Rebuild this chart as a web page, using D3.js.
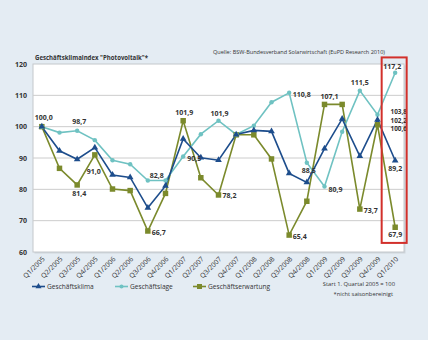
<!DOCTYPE html>
<html><head><meta charset="utf-8">
<script src="https://cdn.jsdelivr.net/npm/d3@7"></script>
<style>
html,body{margin:0;padding:0;background:#e4ecf3;}
svg{display:block;font-family:"Open Sans",sans-serif;}
</style></head>
<body>
<svg id="chart" width="428" height="340"></svg>
<script>
const quarters = ["Q1/2005","Q2/2005","Q3/2005","Q4/2005","Q1/2006","Q2/2006","Q3/2006","Q4/2006",
  "Q1/2007","Q2/2007","Q3/2007","Q4/2007","Q1/2008","Q2/2008","Q3/2008","Q4/2008",
  "Q1/2009","Q2/2009","Q3/2009","Q4/2009","Q1/2010"];
const klima = [100.0, 92.3, 89.6, 93.3, 84.6, 83.8, 74.1, 81.1, 96.1, 90.1, 89.3, 97.5, 98.8, 98.5, 85.1, 82.2, 93.0, 102.5, 90.6, 102.2, 89.2];
const lage = [100.0, 98.1, 98.7, 95.7, 89.3, 88.0, 82.8, 82.8, 90.5, 97.6, 101.9, 97.5, 100.3, 107.8, 110.8, 88.5, 80.9, 98.4, 111.5, 103.8, 117.2];
const erwartung = [100.0, 86.7, 81.4, 91.0, 80.1, 79.6, 66.7, 78.7, 101.9, 83.7, 78.2, 97.4, 97.4, 89.7, 65.4, 76.2, 107.1, 107.1, 73.7, 100.6, 67.9];
const yTicks = [60, 70, 80, 90, 100, 110, 120];
const seriesNames = ["Geschäftsklima", "Geschäftslage", "Geschäftserwartung"];
// labelled points: [series key, quarter index]
const labelled = [
  ["lage",0],["lage",2],["erw",3],["erw",2],["lage",6],["erw",6],["erw",8],["lage",8],
  ["lage",10],["erw",10],["lage",14],["erw",14],["lage",15],["erw",16],["lage",16],
  ["lage",18],["erw",18],["lage",20],["lage",19],["klima",19],["erw",19],["klima",20],["erw",20]
];
const titleText = 'Geschäftsklimaindex "Photovoltaik"*';
const sourceText = "Quelle: BSW-Bundesverband Solarwirtschaft (EuPD Research 2010)";
const note1 = "Start 1. Quartal 2005 = 100";
const note2 = "*nicht saisonbereinigt";

// ---- styling / layout ----
const series = {
  klima: {values: klima, color: "#1d4d8c", marker: "triangle", name: seriesNames[0]},
  lage: {values: lage, color: "#6fc2c2", marker: "circle", name: seriesNames[1]},
  erw: {values: erwartung, color: "#7b8a2c", marker: "square", name: seriesNames[2]}
};
const placement = { // dx, dy, anchor, font size
  "lage-0":[2,-9,"middle"], "lage-2":[2,-9,"middle"], "erw-3":[-1,17,"middle"], "erw-2":[2,9,"middle"],
  "lage-6":[2,-5,"start"], "erw-6":[4,1.5,"start"], "erw-8":[1,-8,"middle"], "lage-8":[4,2,"start"],
  "lage-10":[1,-7.5,"middle"], "erw-10":[4,1,"start"], "lage-14":[3.5,1.5,"start"], "erw-14":[3.5,1.5,"start"],
  "lage-15":[2,8,"middle"], "erw-16":[5,-8,"middle"], "lage-16":[4,2.5,"start"], "lage-18":[0,-8,"middle"],
  "erw-18":[4,1,"start"], "lage-20":[-3,-6,"middle"], "lage-19":[13,-3.6,"start",6.4], "klima-19":[13,0.4,"start",6.4],
  "erw-19":[13,4.0,"start",6.4], "klima-20":[0,7.5,"middle"], "erw-20":[0,7.5,"middle"]
};

const svg = d3.select("#chart");
const plot = {left: 33, right: 404, top: 64, bottom: 252};
const x = d3.scalePoint().domain(quarters).range([plot.left, plot.right]).padding(0.5);
const y = d3.scaleLinear().domain([60, 120]).range([plot.bottom, plot.top]);
const fmt = v => d3.format(".1f")(v).replace(".", ",");

// plot background + shadow
svg.append("rect").attr("x", plot.left + 1.5).attr("y", plot.top + 1.5)
  .attr("width", plot.right - plot.left).attr("height", plot.bottom - plot.top)
  .attr("fill", "#cfd6dc");
svg.append("rect").attr("x", plot.left).attr("y", plot.top)
  .attr("width", plot.right - plot.left).attr("height", plot.bottom - plot.top)
  .attr("fill", "#fff").attr("stroke", "#c4c8cc").attr("stroke-width", 1);

// grid
svg.append("g").selectAll("line").data(yTicks.filter(t => t > 60 && t < 120)).join("line")
  .attr("x1", plot.left).attr("x2", plot.right)
  .attr("y1", d => y(d)).attr("y2", d => y(d))
  .attr("stroke", "#cccccc").attr("stroke-width", 1);

// y axis
const yAxis = d3.axisLeft(y).tickValues(yTicks).tickSize(0).tickPadding(6);
const yg = svg.append("g").attr("transform", `translate(${plot.left},0)`).call(yAxis);
yg.select(".domain").remove();
yg.selectAll("text").attr("font-size", 7).attr("font-weight", "bold").attr("fill", "#333")
  .attr("font-family", "'Open Sans',sans-serif");

// x axis
const xAxis = d3.axisBottom(x).tickSize(0).tickPadding(0);
const xg = svg.append("g").attr("transform", `translate(0,${plot.bottom})`).call(xAxis);
xg.select(".domain").remove();
xg.selectAll("text").attr("font-size", 6.8).attr("fill", "#333")
  .attr("font-family", "'Open Sans',sans-serif")
  .attr("text-anchor", "end").attr("dy", 0).attr("y", 0)
  .attr("transform", "translate(3,7.5) rotate(-45)");

// lines
const line = d3.line().x((d, i) => x(quarters[i])).y(d => y(d));
const order = ["erw", "lage", "klima"];
function marker(g, type, color, size) {
  if (type === "triangle") {
    g.append("path").attr("d", d3.symbol(d3.symbolTriangle, size * 3.2)()).attr("fill", color);
  } else if (type === "square") {
    g.append("path").attr("d", d3.symbol(d3.symbolSquare, size * 5)()).attr("fill", color);
  } else {
    g.append("path").attr("d", d3.symbol(d3.symbolCircle, size * 2.6)()).attr("fill", color);
  }
}
order.forEach(k => {
  const s = series[k];
  svg.append("path").datum(s.values).attr("d", line)
    .attr("fill", "none").attr("stroke", s.color).attr("stroke-width", 1.6)
    .attr("stroke-linejoin", "miter");
});
order.forEach(k => {
  const s = series[k];
  s.values.forEach((v, i) => {
    const g = svg.append("g").attr("transform", `translate(${x(quarters[i])},${y(v)})`);
    marker(g, s.marker, s.color, 6);
  });
});

// data labels
const pl = d => placement[d[0] + "-" + d[1]];
svg.append("g").selectAll("text").data(labelled).join("text")
  .attr("x", d => x(quarters[d[1]]) + pl(d)[0])
  .attr("y", d => y(series[d[0]].values[d[1]]) + pl(d)[1])
  .attr("text-anchor", d => pl(d)[2])
  .attr("dominant-baseline", "central")
  .attr("font-size", d => pl(d)[3] || 7).attr("font-weight", "bold").attr("fill", "#333")
  .text(d => fmt(series[d[0]].values[d[1]]));

// red highlight box
const lastX = x(quarters[quarters.length - 1]);
svg.append("rect").attr("x", lastX - 13.5).attr("y", y(122.1))
  .attr("width", 25).attr("height", y(62.9) - y(122.1))
  .attr("fill", "none").attr("stroke", "#d2302b").attr("stroke-width", 2);

// title & source
svg.append("text").attr("x", 35).attr("y", 57).attr("dominant-baseline", "central")
  .attr("font-size", 7.3).attr("font-weight", "bold").attr("fill", "#333")
  .attr("textLength", 113).attr("lengthAdjust", "spacingAndGlyphs").text(titleText);
svg.append("text").attr("x", 213).attr("y", 51.5).attr("dominant-baseline", "central")
  .attr("font-size", 6).attr("fill", "#333")
  .attr("textLength", 172).attr("lengthAdjust", "spacingAndGlyphs").text(sourceText);

// legend
const legendX = [32, 115, 193];
order.slice().reverse().forEach((k, j) => {
  const s = series[k];
  const g = svg.append("g").attr("transform", `translate(${legendX[j]},286.5)`);
  g.append("line").attr("x1", 0).attr("x2", 13).attr("stroke", s.color).attr("stroke-width", 1.6);
  const mg = g.append("g").attr("transform", "translate(6.5,0)");
  marker(mg, s.marker, s.color, 5);
  g.append("text").attr("x", 15).attr("dominant-baseline", "central")
    .attr("font-size", 6.6).attr("fill", "#333").text(s.name);
});

svg.append("text").attr("x", 395).attr("y", 283.5).attr("text-anchor", "end").attr("dominant-baseline", "central")
  .attr("font-size", 5.8).attr("fill", "#333").text(note1);
svg.append("text").attr("x", 393).attr("y", 293.5).attr("text-anchor", "end").attr("dominant-baseline", "central")
  .attr("font-size", 5.8).attr("fill", "#333").text(note2);
</script>
</body></html>
